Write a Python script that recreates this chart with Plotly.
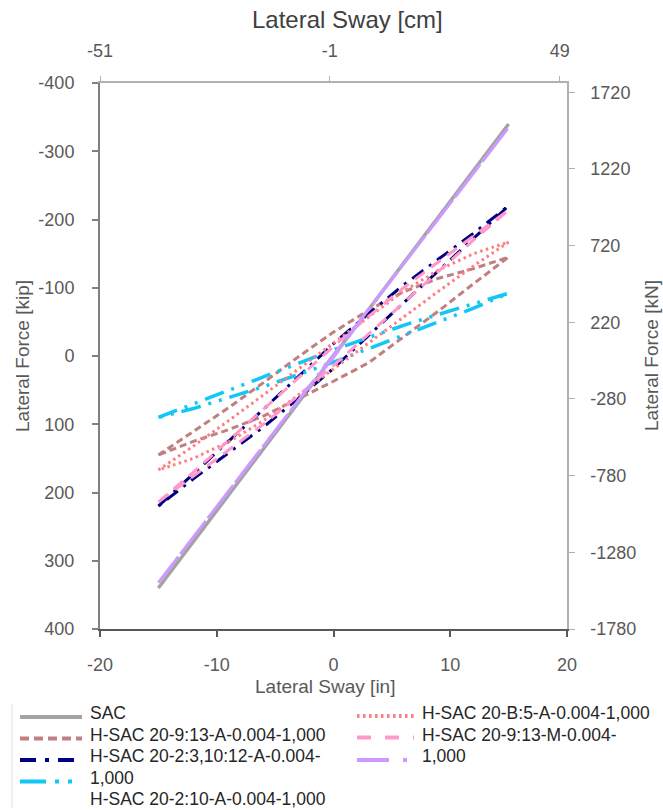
import plotly.graph_objects as go

# ---------------- data ----------------
x_ends = [-15, 15]
sac_y = [340, -340]

x_up = [-15, -12, -9, -6, -3, 0, 3, 6, 9, 12, 15]
x_down = [15, 12, 9, 6, 3, 0, -3, -6, -9, -12, -15]

brown_up = [145, 111, 76, 39, 1, -35, -67, -94, -114, -128, -145]
brown_down = [-145, -106, -66, -28, 10, 37, 62, 88, 108, 125, 145]

navy_up = [220, 172, 125, 78, 30, -18, -62, -104, -142, -180, -220]
navy_down = [-220, -172, -125, -78, -30, 18, 62, 104, 142, 180, 220]

cyan_up = [90, 70, 50, 30, 10, -9, -27, -45, -61, -77, -92]
cyan_down = [-92, -70, -50, -30, -10, 9, 27, 45, 61, 77, 90]

salmon_up = [167, 132, 95, 57, 18, -20, -58, -95, -126, -150, -167]
salmon_down = [-167, -132, -95, -57, -18, 20, 58, 95, 126, 150, 167]

pink_up = [214, 170, 124, 78, 32, -14, -58, -100, -138, -176, -214]
pink_down = [-214, -170, -124, -78, -32, 14, 58, 100, 138, 176, 214]

purple_up = [332, 265, 199, 132, 65, -2, -68, -135, -201, -268, -335]
purple_down = [-335, -268, -201, -135, -68, 2, 65, 132, 199, 265, 332]

kip_ticks = [-400, -300, -200, -100, 0, 100, 200, 300, 400]
in_ticks = [-20, -10, 0, 10, 20]
cm_ticks = [-51, -1, 49]
kn_ticks = [-1780, -1280, -780, -280, 220, 720, 1220, 1720]

names = ["SAC", "H-SAC 20-9:13-A-0.004-1,000", "H-SAC 20-2:3,10:12-A-0.004-1,000",
         "H-SAC 20-2:10-A-0.004-1,000", "H-SAC 20-B:5-A-0.004-1,000",
         "H-SAC 20-9:13-M-0.004-1,000", "H-SAC 20-9:13-M-0.004-1,000 (b)"]
colors = ["#A3A3A3", "#C08080", "#000080", "#12C6F6", "#FF7C80", "#FF99CC", "#CC99FF"]
dashes = ["solid", "7px,4px", "14px,7px,3px,7px", "20px,8px,3px,8px,3px,8px",
          "2.5px,3.5px", "12px,8px", "30px,6px,3px,6px"]
legend_dashes = ["solid", "9px,5px", "16px,9px,4px,9px", "26px,9px,4px,9px,4px,20px",
                 "2.5px,3.5px", "14px,14px", "32px,14px,4px,14px"]
widths = [3.5, 3, 3, 3.5, 3, 3, 3]

FONT = "Liberation Sans, Arial, sans-serif"

# plot-area geometry in pixels
W, H = 663, 810
L, R, T, B = 100, 567, 83, 629


def px(xp):
    return (xp - L) / (R - L)


def py(yp):
    return (B - yp) / (B - T)


def labels(vals):
    return [str(v) for v in vals]


fig = go.Figure()

series = [
    (x_ends, sac_y),
    (x_up + x_down, brown_up + brown_down),
    (x_up + x_down, navy_up + navy_down),
    (x_up + x_down, cyan_up + cyan_down),
    (x_up + x_down, salmon_up + salmon_down),
    (x_up + x_down, pink_up + pink_down),
    (x_up + x_down, purple_up + purple_down),
]
for i, (xs, ys) in enumerate(series):
    fig.add_trace(go.Scatter(x=xs, y=ys, mode="lines", name=names[i],
                             line=dict(color=colors[i], width=widths[i], dash=dashes[i]),
                             showlegend=False, hoverinfo="skip"))

# secondary axes carriers (invisible)
fig.add_trace(go.Scatter(x=[None], y=[None], xaxis="x2", yaxis="y2", showlegend=False))

tickfont = dict(family=FONT, size=18, color="#595959")

fig.update_layout(
    width=W, height=H,
    margin=dict(l=L, r=W - R, t=T, b=H - B),
    paper_bgcolor="white", plot_bgcolor="white",
    showlegend=False,
    xaxis=dict(range=[-20, 20], tickvals=in_ticks, ticktext=labels(in_ticks), ticks="outside",
               ticklen=6, tickwidth=1.5, tickcolor="#595959", showline=True, linecolor="#595959",
               linewidth=2, showgrid=False, zeroline=False, tickfont=tickfont, ticklabelstandoff=12),
    yaxis=dict(range=[400, -400], tickvals=kip_ticks, ticktext=labels(kip_ticks), ticks="outside",
               ticklen=6, tickwidth=1.5, tickcolor="#808080", showline=True, linecolor="#808080",
               linewidth=2, showgrid=False, zeroline=False, tickfont=tickfont, ticklabelstandoff=14),
    xaxis2=dict(range=[-51, 50.6], tickvals=cm_ticks, ticktext=labels(cm_ticks), overlaying="x",
                side="top", ticks="outside", ticklen=5, tickcolor="#B0B0B0", showline=True,
                linecolor="#B0B0B0", linewidth=1.5, showgrid=False, zeroline=False,
                tickfont=tickfont, ticklabelstandoff=12),
    yaxis2=dict(range=[-1780, 1780], tickvals=kn_ticks, ticktext=labels(kn_ticks), overlaying="y",
                side="right", ticks="outside", ticklen=6, tickcolor="#B0B0B0", showline=True,
                linecolor="#B0B0B0", linewidth=1.5, showgrid=False, zeroline=False,
                tickfont=tickfont, ticklabelstandoff=12),
)

ann = []
# axis titles
ann.append(dict(text="Lateral Sway [cm]", x=px(347), y=py(20), font=dict(family=FONT, size=24, color="#404040")))
ann.append(dict(text="Lateral Sway [in]", x=px(325), y=py(686), font=dict(family=FONT, size=19, color="#595959")))
ann.append(dict(text="Lateral Force [kip]", x=px(22), y=py(356), textangle=-90, font=dict(family=FONT, size=19, color="#595959")))
ann.append(dict(text="Lateral Force [kN]", x=px(651), y=py(356), textangle=-90, font=dict(family=FONT, size=19, color="#595959")))

# manual legend
legend_rows = [
    # (text, text_x, text_y, symbol index or None, sym_x0, sym_x1, sym_y)
    ("SAC", 88, 713, 0, 20, 82, 717),
    ("H-SAC 20-9:13-A-0.004-1,000", 88, 734.5, 1, 20, 82, 738.5),
    ("H-SAC 20-2:3,10:12-A-0.004-", 88, 756, 2, 20, 82, 760),
    ("1,000", 88, 777.5, 3, 20, 82, 781.5),
    ("H-SAC 20-2:10-A-0.004-1,000", 88, 799, None, 0, 0, 0),
    ("H-SAC 20-B:5-A-0.004-1,000", 420, 713, 4, 357, 414, 716),
    ("H-SAC 20-9:13-M-0.004-", 420, 734.5, 5, 357, 414, 737.5),
    ("1,000", 420, 756, 6, 357, 414, 760),
]
shapes = []
for text, tx, ty, si, x0, x1, sy in legend_rows:
    ann.append(dict(text=text, x=px(tx), y=py(ty), xanchor="left", yanchor="middle",
                    font=dict(family=FONT, size=17.5, color="#262626")))
    if si is not None:
        shapes.append(dict(type="line", xref="paper", yref="paper",
                           x0=px(x0), x1=px(x1), y0=py(sy), y1=py(sy),
                           line=dict(color=colors[si], width=4, dash=legend_dashes[si])))
# legend frame (light)
shapes.append(dict(type="line", xref="paper", yref="paper", x0=px(12), x1=px(12), y0=py(704), y1=py(808),
                   line=dict(color="#E0E0E0", width=1)))

for a in ann:
    a.setdefault("xref", "paper")
    a.setdefault("yref", "paper")
    a.setdefault("showarrow", False)
    a.setdefault("xanchor", "center")
    a.setdefault("yanchor", "middle")
fig.update_layout(annotations=ann, shapes=shapes)

fig.write_html("out.html", config={"displayModeBar": False},
               post_script="document.body.style.margin='0';")
